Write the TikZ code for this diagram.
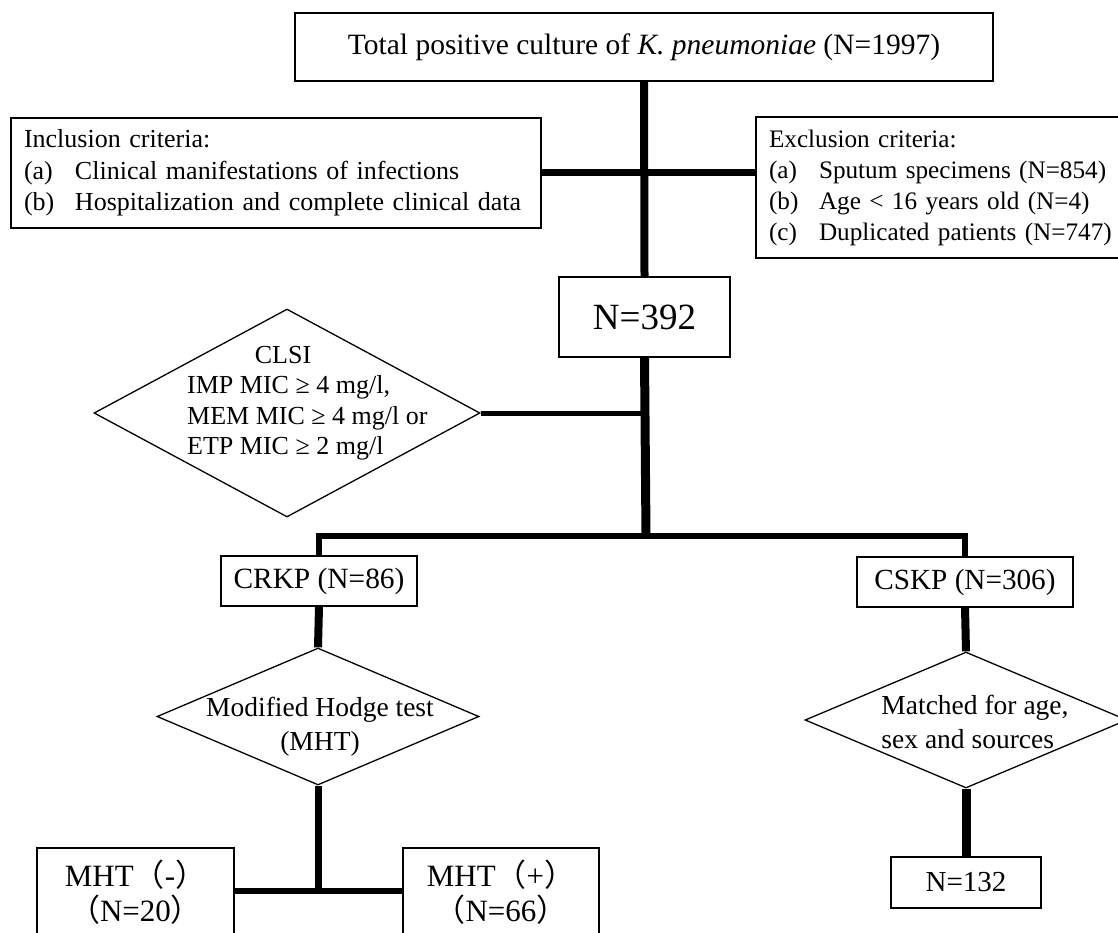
\documentclass[tikz,border=0pt]{standalone}
\usepackage{fontspec}
\setmainfont{Liberation Serif}
\newfontfamily\cjk{Noto Sans CJK SC}
\usetikzlibrary{shapes.geometric}
\newcommand\myfs[2]{\fontsize{#1}{#2}\selectfont}
\tikzset{
  box/.style={draw, line width=1.5pt, inner sep=0pt},
  dia/.style={diamond, draw, line width=1.3pt, inner sep=0pt},
  txt/.style={inner sep=0pt},
  conn/.style={line width=#1, line join=miter, line cap=butt},
}
\begin{document}
\begin{tikzpicture}[x=1pt,y=-1pt]
\useasboundingbox[fill=white] (0,0) rectangle (1118,932);

% boxes
\node[box, minimum width=698pt, minimum height=68pt, font=\myfs{29.5}{34}] (top) at (644,47)
  {Total positive culture of \textit{K. pneumoniae} (N=1997)};
\node[box, minimum width=530pt, minimum height=110pt, text width=504pt, align=left,
  inner xsep=13pt, font=\myfs{26}{31.5}] (inc) at (276,173)
  {Inclusion criteria:\\
   \makebox[51pt][l]{(a)}Clinical manifestations of infections\\
   \makebox[51pt][l]{(b)}Hospitalization and complete clinical data};
\node[box, minimum width=390pt, minimum height=141pt, text width=364pt, align=left,
  inner xsep=13pt, font=\myfs{25.2}{31}] (exc) at (951,187.5)
  {Exclusion criteria:\\
   \makebox[50pt][l]{(a)}Sputum specimens (N=854)\\
   \makebox[50pt][l]{(b)}Age < 16 years old (N=4)\\
   \makebox[50pt][l]{(c)}Duplicated patients (N=747)};
\node[box, minimum width=171pt, minimum height=80pt, font=\myfs{37}{40}] (n392) at (644.5,317) {N=392};

\node[dia, minimum width=386pt, minimum height=208pt] (clsi) at (287,413) {};
\node[txt, font=\myfs{26}{31}] (clsititle) at (283,355) {CLSI};
\node[txt, anchor=west, align=left, font=\myfs{26}{30.5}] (clsitext) at (187,418)
  {IMP MIC ≥ 4 mg/l,\\ MEM MIC ≥ 4 mg/l or\\ ETP MIC ≥ 2 mg/l};

\node[box, minimum width=196pt, minimum height=50pt, font=\myfs{29.4}{33}] (crkp) at (319,581) {CRKP (N=86)};
\node[box, minimum width=216pt, minimum height=50pt, font=\myfs{29.2}{33}] (cskp) at (965,582) {CSKP (N=306)};

\node[dia, minimum width=322pt, minimum height=137pt] (mhtd) at (318,716.5) {};
\node[txt, align=center, font=\myfs{27.5}{34}] (mhtdtext) at (320,727) {Modified Hodge test\\(MHT)};

\node[dia, minimum width=322pt, minimum height=136pt] (match) at (966,720) {};
\node[txt, align=left, font=\myfs{27.5}{34}] (matchtext) at (975,722) {Matched for age,\\sex and sources};

\node[box, minimum width=197pt, minimum height=100pt] (mneg) at (135.5,898) {};
\node[txt, align=center, font=\myfs{31}{35}] (mnegtext) at (135.5,892.5) {MHT{\cjk（}-{\cjk）}\\{\cjk（}N=20{\cjk）}};
\node[box, minimum width=196pt, minimum height=100pt] (mpos) at (501,898) {};
\node[txt, align=center, font=\myfs{31}{35}] (mpostext) at (501,892.5) {MHT{\cjk（}+{\cjk）}\\{\cjk（}N=66{\cjk）}};

\node[box, minimum width=150pt, minimum height=51pt, font=\myfs{29}{33}] (n132) at (966,882.5) {N=132};

% junction points
\coordinate (junc) at (646,536);
\coordinate (mhtj) at (318,891);

% connectors
\draw[conn=8pt] (top.south) -- (n392.north);
\draw[conn=7pt] (inc.east |- 0,172) -- (exc.west |- 0,172);
\draw[conn=9pt] (n392.south) -- (junc);
\draw[conn=5pt] (clsi.east) -- (clsi.east -| junc);
\draw[conn=6pt] (crkp.north) |- (junc) -| (cskp.north);
\draw[conn=8pt] (crkp.south) -- (mhtd.north);
\draw[conn=8pt] (cskp.south) -- (match.north);
\draw[conn=7pt] (mhtd.south) -- (mhtj);
\draw[conn=6pt] (mneg.east |- mhtj) -- (mpos.west |- mhtj);
\draw[conn=9pt] (match.south) -- (n132.north);
\end{tikzpicture}
\end{document}
